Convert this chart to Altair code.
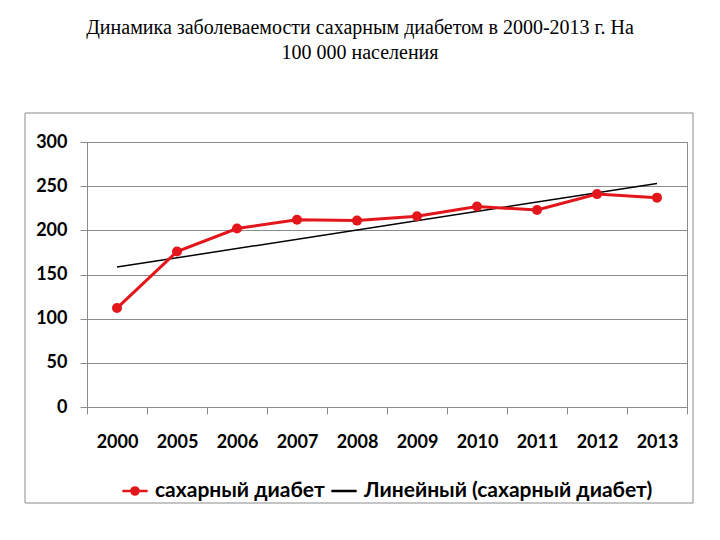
import json
import altair as alt
import pandas as pd

years = ["2000", "2005", "2006", "2007", "2008", "2009", "2010", "2011", "2012", "2013"]
values = [112, 176, 202, 212, 211, 216, 227, 223, 241, 237]
series_names = ["сахарный диабет", "Линейный (сахарный диабет)"]
y_ticks = [0, 50, 100, 150, 200, 250, 300]
title_lines = ["Динамика заболеваемости сахарным диабетом в 2000-2013 г. На", "100 000 населения"]

RED = "#e3161c"
GRAY = "#8a8a8a"
AX = dict(labelFont="Lato", labelFontWeight="bold", labelFontSize=18, labelColor="black",
          domainColor=GRAY, tickColor=GRAY, gridColor=GRAY, gridOpacity=1, domainWidth=1, tickWidth=1)

df = pd.DataFrame({"idx": list(range(len(years))), "year": years, "value": values})

bounds = [i - 0.5 for i in range(len(years) + 1)]
label_expr = json.dumps(years + [""]) + "[datum.value + 0.5]"

x_enc = alt.X(
    "idx:Q",
    scale=alt.Scale(domain=[-0.5, len(years) - 0.5], nice=False, zero=False),
    axis=alt.Axis(
        values=bounds, labelExpr=label_expr, labelOffset=30, title=None, grid=False,
        tickSize=7, labelPadding=19, labelFlush=False, labelBound=False, labelOverlap=False, **AX,
    ),
)
y_enc = alt.Y(
    "value:Q",
    scale=alt.Scale(domain=[0, 300], nice=False),
    axis=alt.Axis(values=y_ticks, title=None, tickSize=7, labelPadding=13, grid=True, **AX),
)

base = alt.Chart(df)

line = base.mark_line(color=RED, strokeWidth=3).encode(x=x_enc, y=y_enc)
points = base.mark_point(filled=True, color=RED, size=100, opacity=1).encode(x=x_enc, y=y_enc)
trend = base.transform_regression("idx", "value", method="linear").mark_line(
    color="black", strokeWidth=1.5
).encode(x=x_enc, y=y_enc)

r = 0.28
path_dot = f"M-1,0L1,0M-{r},0A{r},{r},0,1,1,{r},0A{r},{r},0,1,1,-{r},0Z"
path_line = "M-1,0L1,0"

leg = alt.Legend(
    title=None, orient="none", legendX=34, legendY=335, direction="horizontal",
    labelFont="Lato", labelFontWeight="bold", labelFontSize=21, labelColor="black",
    symbolSize=640, symbolStrokeWidth=2.5, columnPadding=1, labelOffset=6, labelLimit=0,
)
legend_layer = base.transform_filter("datum.idx < 0").transform_calculate(
    series="'" + series_names[0] + "'"
).mark_point(filled=True, size=640, opacity=1).encode(
    x=x_enc, y=y_enc,
    shape=alt.Shape("series:N", scale=alt.Scale(domain=series_names, range=[path_dot, path_line]), legend=leg),
    fill=alt.Fill("series:N", scale=alt.Scale(domain=series_names, range=[RED, "black"]), legend=leg),
    stroke=alt.Stroke("series:N", scale=alt.Scale(domain=series_names, range=[RED, "black"]), legend=leg),
)

frame = alt.Chart(alt.Data(values=[{}])).mark_rect(
    fillOpacity=0, stroke=GRAY, strokeWidth=1
).encode(x=alt.value(-62), x2=alt.value(606), y=alt.value(-29), y2=alt.value(361))

chart = alt.layer(frame, trend, line, points, legend_layer).properties(
    width=600, height=265,
    background="white",
    autosize=alt.AutoSizeParams(type="none"),
    padding={"left": 87, "top": 142, "right": 33, "bottom": 133},
    title=alt.TitleParams(
        text=title_lines, font="Liberation Serif", fontSize=20, fontWeight="normal",
        color="black", anchor="middle", frame="group", dx=-27, offset=50, lineHeight=25,
    ),
).configure_view(stroke=GRAY, strokeWidth=1)

chart.save("out.html", embed_options={"renderer": "svg", "actions": False})
